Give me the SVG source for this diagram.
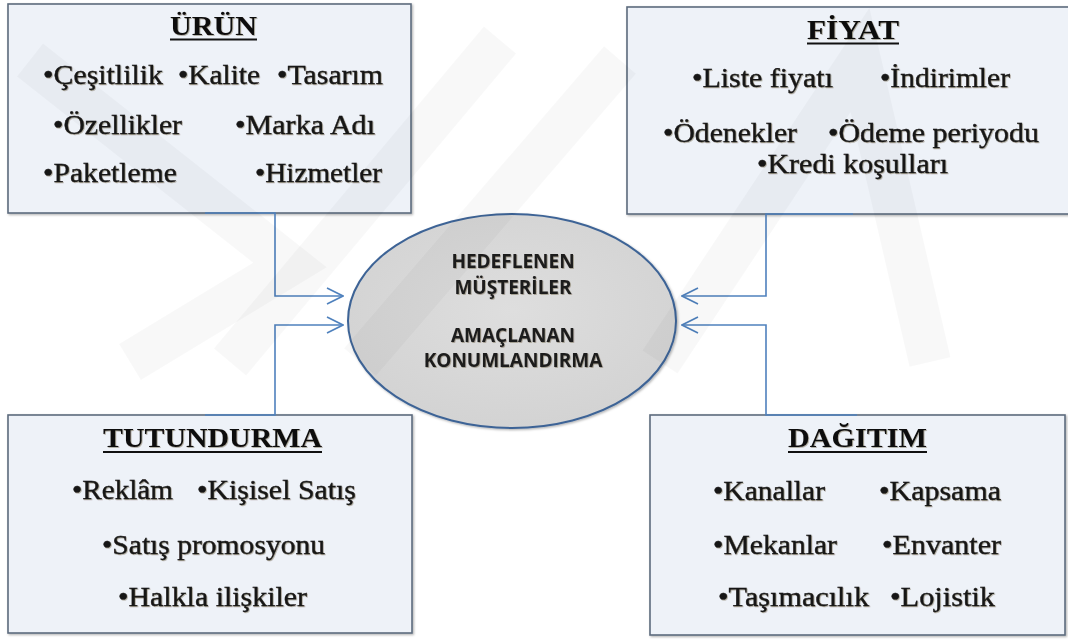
<svg xmlns="http://www.w3.org/2000/svg" width="1068" height="640" viewBox="0 0 1068 640">
<style>
.box{fill:#eef2f8;stroke:#5d6b7d;stroke-width:1.6;filter:url(#bs)}
.title{font-family:"Liberation Serif","Times New Roman",serif;font-weight:bold;font-size:27px;fill:#111;filter:url(#ts)}
.item{font-family:"Liberation Serif","Times New Roman",serif;font-size:28px;fill:#151515;stroke:#151515;stroke-width:0.35;filter:url(#ts)}
.ul{stroke:#111;stroke-width:2.2}
.etext{font-family:"Open Sans","Noto Sans",sans-serif;font-weight:bold;font-size:19px;fill:#1c1c1c;text-anchor:middle;filter:url(#ts)}
.conn{fill:none;stroke:#4f81bd;stroke-width:1.6}
.wm{fill:none;stroke:#000;stroke-opacity:0.028;stroke-width:42;stroke-linejoin:miter}
</style>
<defs>
<filter id="ts" x="-5%" y="-20%" width="110%" height="140%">
<feDropShadow dx="0.8" dy="0.8" stdDeviation="0.4" flood-color="#3a2a10" flood-opacity="0.4"/>
</filter>
<filter id="bs" x="-5%" y="-5%" width="110%" height="110%">
<feDropShadow dx="1.2" dy="1.2" stdDeviation="0.8" flood-color="#000" flood-opacity="0.3"/>
</filter>
<radialGradient id="eg" cx="0.5" cy="0.45" r="0.6">
<stop offset="0" stop-color="#dedede"/>
<stop offset="1" stop-color="#d2d2d2"/>
</radialGradient>
<marker id="ah" viewBox="0 0 18 18" refX="17" refY="9" markerWidth="18" markerHeight="18" markerUnits="userSpaceOnUse" orient="auto">
<path d="M1,1 L17,9 L1,17" fill="none" stroke="#4f81bd" stroke-width="1.6"/>
</marker>
</defs>
<rect width="1068" height="640" fill="#fff"/>

<g id="urun">
<rect class="box" x="8" y="4" width="403" height="209"/>
<text class="title" x="170" y="35" textLength="87" lengthAdjust="spacingAndGlyphs">ÜRÜN</text>
<line class="ul" x1="170" y1="39.5" x2="257" y2="39.5"/>
<text class="item" x="43" y="84" textLength="120" lengthAdjust="spacingAndGlyphs">•Çeşitlilik</text>
<text class="item" x="178" y="84" textLength="82" lengthAdjust="spacingAndGlyphs">•Kalite</text>
<text class="item" x="277" y="84" textLength="106" lengthAdjust="spacingAndGlyphs">•Tasarım</text>
<text class="item" x="53" y="134" textLength="129" lengthAdjust="spacingAndGlyphs">•Özellikler</text>
<text class="item" x="235" y="134" textLength="140" lengthAdjust="spacingAndGlyphs">•Marka Adı</text>
<text class="item" x="43" y="182" textLength="134" lengthAdjust="spacingAndGlyphs">•Paketleme</text>
<text class="item" x="255" y="182" textLength="127" lengthAdjust="spacingAndGlyphs">•Hizmetler</text>
</g>

<g id="fiyat">
<rect class="box" x="627" y="7" width="452" height="207"/>
<text class="title" x="807" y="39" textLength="92" lengthAdjust="spacingAndGlyphs">FİYAT</text>
<line class="ul" x1="807" y1="43.5" x2="899" y2="43.5"/>
<text class="item" x="692" y="87" textLength="141" lengthAdjust="spacingAndGlyphs">•Liste fiyatı</text>
<text class="item" x="880" y="87" textLength="130" lengthAdjust="spacingAndGlyphs">•İndirimler</text>
<text class="item" x="663" y="142" textLength="134" lengthAdjust="spacingAndGlyphs">•Ödenekler</text>
<text class="item" x="828" y="142" textLength="211" lengthAdjust="spacingAndGlyphs">•Ödeme periyodu</text>
<text class="item" x="757" y="173" textLength="191" lengthAdjust="spacingAndGlyphs">•Kredi koşulları</text>
</g>

<g id="tutundurma">
<rect class="box" x="8" y="415" width="404" height="218"/>
<text class="title" x="103" y="447" textLength="219" lengthAdjust="spacingAndGlyphs">TUTUNDURMA</text>
<line class="ul" x1="103" y1="452" x2="322" y2="452"/>
<text class="item" x="72" y="499" textLength="101" lengthAdjust="spacingAndGlyphs">•Reklâm</text>
<text class="item" x="197" y="499" textLength="159" lengthAdjust="spacingAndGlyphs">•Kişisel Satış</text>
<text class="item" x="102" y="554" textLength="223" lengthAdjust="spacingAndGlyphs">•Satış promosyonu</text>
<text class="item" x="118" y="606" textLength="189" lengthAdjust="spacingAndGlyphs">•Halkla ilişkiler</text>
</g>

<g id="dagitim">
<rect class="box" x="650" y="415" width="415" height="220"/>
<text class="title" x="788" y="447" textLength="139" lengthAdjust="spacingAndGlyphs">DAĞITIM</text>
<line class="ul" x1="788" y1="452" x2="927" y2="452"/>
<text class="item" x="713" y="500" textLength="112" lengthAdjust="spacingAndGlyphs">•Kanallar</text>
<text class="item" x="879" y="500" textLength="122" lengthAdjust="spacingAndGlyphs">•Kapsama</text>
<text class="item" x="713" y="554" textLength="124" lengthAdjust="spacingAndGlyphs">•Mekanlar</text>
<text class="item" x="882" y="554" textLength="119" lengthAdjust="spacingAndGlyphs">•Envanter</text>
<text class="item" x="718" y="606" textLength="151" lengthAdjust="spacingAndGlyphs">•Taşımacılık</text>
<text class="item" x="890" y="606" textLength="105" lengthAdjust="spacingAndGlyphs">•Lojistik</text>
</g>

<g id="connectors">
<path class="conn" d="M205,213 H275 V296 H343" marker-end="url(#ah)"/>
<path class="conn" d="M205,415 H275 V325 H343" marker-end="url(#ah)"/>
<path class="conn" d="M853,214 H766 V296 H682" marker-end="url(#ah)"/>
<path class="conn" d="M857,415 H766 V325 H682" marker-end="url(#ah)"/>
</g>

<g id="hedef">
<ellipse cx="512" cy="321" rx="164" ry="107" fill="url(#eg)" stroke="#3e6496" stroke-width="2" filter="url(#bs)"/>
<text class="etext" x="513" y="268">HEDEFLENEN</text>
<text class="etext" x="513" y="294">MÜŞTERİLER</text>
<text class="etext" x="513" y="342">AMAÇLANAN</text>
<text class="etext" x="513" y="367">KONUMLANDIRMA</text>
</g>

<g id="watermark">
<polyline class="wm" points="30,60 290,265 130,362"/>
<polyline class="wm" points="230,362 500,40"/>
<polyline class="wm" points="360,362 620,60"/>
<polyline class="wm" points="660,362 860,60 930,362"/>
</g>
</svg>
